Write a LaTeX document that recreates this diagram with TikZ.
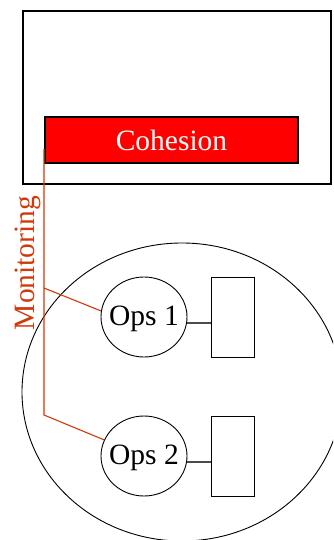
\documentclass[tikz,border=0pt]{standalone}
\usepackage{fontspec}
\setmainfont{Liberation Serif}
\usetikzlibrary{shapes.geometric}
\definecolor{mon}{RGB}{208,58,10}
\tikzset{
  frame/.style={draw=black, line width=1.2pt, inner sep=0pt},
  cohbox/.style={draw=black, line width=1.1pt, fill=red, text=white, inner sep=0pt,
    minimum width=253pt, minimum height=46pt, font=\fontsize{29.5}{32}\selectfont},
  opsell/.style={ellipse, draw=black, line width=0.9pt, inner sep=0pt,
    minimum width=86pt, minimum height=80pt},
  opslabel/.style={font=\fontsize{29.5}{32}\selectfont, yshift=-2pt},
  bigell/.style={ellipse, draw=black, line width=0.9pt, inner sep=0pt,
    minimum width=320pt, minimum height=298pt},
  sidebox/.style={draw=black, line width=1pt, inner sep=0pt,
    minimum width=43pt, minimum height=80pt},
  monline/.style={draw=mon, line width=1.1pt},
  link/.style={draw=black!70, line width=1.1pt},
}
\begin{document}
\begin{tikzpicture}[x=1pt, y=-1pt]
\useasboundingbox (0,0) rectangle (333,540);
\clip (0,0) rectangle (333,540);
\node[frame, minimum width=308pt, minimum height=173pt] (top) at (177,97.5) {};
\node[cohbox] (coh) at (171.5,140) {Cohesion};
\node[bigell] (group) at (182,392) {};
\node[opsell, label={[opslabel]center:Ops 1}] (ops1) at (144,317) {};
\node[opsell, label={[opslabel]center:Ops 2}] (ops2) at (144,456) {};
\node[sidebox] (box1) at (232.5,317) {};
\node[sidebox] (box2) at (232.5,456) {};
\draw[link] (ops1.-8) -- (ops1.-8 -| box1.west);
\draw[link] (ops2.-8) -- (ops2.-8 -| box2.west);
\coordinate (m0) at (44,149);
\coordinate (j1) at (44,288);
\coordinate (j2) at (44,415);
\draw[monline] (m0) -- (j2) -- (ops2.158);
\draw[monline] (j1) -- (ops1.172);
\node[rotate=90, anchor=base, text=mon, font=\fontsize{29.5}{32}\selectfont] (monlabel) at (34,263) {Monitoring};
\end{tikzpicture}
\end{document}
